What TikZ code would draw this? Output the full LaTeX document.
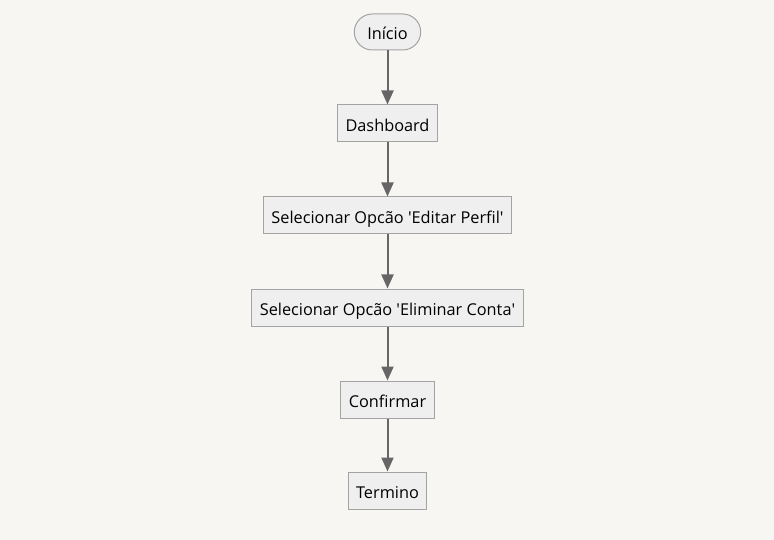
\documentclass[tikz,border=0pt]{standalone}
\usepackage{fontspec}
\setmainfont{Open Sans}
\usepackage{tikz}
\usetikzlibrary{arrows.meta,shapes}
\definecolor{pagebg}{HTML}{F7F6F3}
\definecolor{boxfill}{HTML}{EFEFEF}
\definecolor{boxline}{HTML}{A3A3A3}
\definecolor{flowline}{HTML}{666666}
\tikzstyle{stepbox}=[draw=boxline, fill=boxfill, line width=1pt, minimum height=37pt, inner xsep=8pt, text height=16pt, text depth=0pt, font=\fontsize{16.3pt}{18pt}\selectfont]
\tikzstyle{terminal}=[stepbox, rounded corners=18pt, minimum height=36pt, inner xsep=13pt]
\tikzstyle{flow}=[draw=flowline, line width=2pt, -{Triangle[width=12pt,length=14pt]}]

\begin{document}
\begin{tikzpicture}[x=1pt,y=-1pt]
	\fill[pagebg] (0,0) rectangle (774,540);
	\useasboundingbox (0,0) rectangle (774,540);
	\node[terminal] (inicio) at (387.5,32) {Início};
	\node[stepbox] (dash) at (387.5,123.5) {Dashboard};
	\node[stepbox] (editar) at (387.5,215.5) {Selecionar Opcão \textquotesingle Editar Perfil\textquotesingle};
	\node[stepbox] (eliminar) at (387.5,307.5) {Selecionar Opcão \textquotesingle Eliminar Conta\textquotesingle};
	\node[stepbox] (confirmar) at (387.5,399.5) {Confirmar};
	\node[stepbox] (termino) at (387.5,490.5) {Termino};
	\draw[flow] (inicio) -- (dash);
	\draw[flow] (dash) -- (editar);
	\draw[flow] (editar) -- (eliminar);
	\draw[flow] (eliminar) -- (confirmar);
	\draw[flow] (confirmar) -- (termino);
\end{tikzpicture}
\end{document}
